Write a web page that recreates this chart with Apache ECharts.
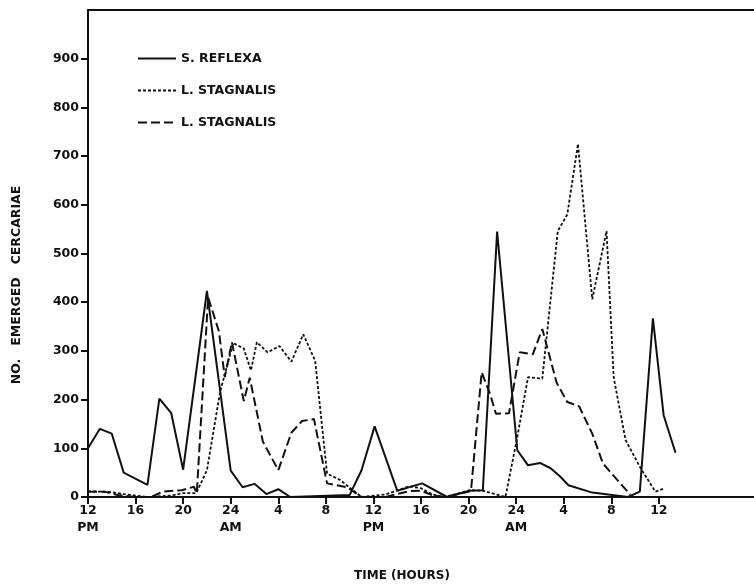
<!DOCTYPE html>
<html>
<head>
<meta charset="utf-8">
<script src="https://cdn.jsdelivr.net/npm/echarts@6/dist/echarts.min.js"></script>
<style>
    html, body { margin: 0; padding: 0; background: #fff; }
    #chart { width: 754px; height: 586px; }
</style>
</head>
<body>
<div id="chart"></div>
<script>
// hours counted from 12 PM of the first day
var reflexaHours = [0, 1, 2, 3, 5, 6, 7, 8, 10, 12, 13, 14, 15, 16, 17, 22, 23, 24.1, 26, 28.1, 30.2, 32.1, 33.2, 34.4, 36.1, 37, 38, 38.9, 39.7, 40.4, 42.4, 45.4, 46.4, 47.5, 48.4, 49.4];
var reflexaCounts = [100, 140, 130, 50, 25, 202, 172, 56, 423, 54, 20, 27, 6, 16, 0, 4, 55, 145, 13, 28, 0, 13, 14, 545, 96, 65, 70, 59, 42, 24, 9, 0, 11, 367, 168, 91];

var stagDotHours = [0, 2, 3, 5, 7, 8, 9.1, 10, 11.1, 12.2, 13.1, 13.7, 14.2, 15.1, 16.1, 17.1, 18.1, 19.1, 20.1, 21.2, 23, 25, 27, 28, 29, 30, 32.1, 33.2, 35.1, 36.05, 37, 38.2, 39.5, 40.3, 41.2, 42.4, 43.6, 44.2, 45.2, 46.4, 47.7, 48.5];
var stagDotCounts = [12, 10, 6, 0, 3, 8, 8, 55, 215, 316, 305, 260, 318, 297, 310, 278, 334, 280, 48, 35, 0, 5, 22, 18, 5, 0, 14, 13, 0, 117, 246, 243, 546, 580, 725, 406, 546, 246, 117, 62, 11, 18];

var stagDashHours = [0, 1.4, 2.5, 4, 5.3, 6.3, 7.9, 8.9, 9.15, 10.1, 11, 11.5, 12.1, 13.1, 13.6, 14.7, 16, 17.1, 18, 19, 20.1, 21.8, 23, 25, 27, 28, 29, 30, 32.2, 33.1, 33.8, 34.3, 35.4, 36.3, 37.4, 38.2, 39.4, 40.3, 41.3, 42.4, 43.3, 44.5, 45.6];
var stagDashCounts = [11, 11, 4, 0, 0, 11, 14, 21, 8, 410, 341, 246, 318, 197, 245, 114, 55, 132, 156, 160, 28, 20, 0, 0, 12, 13, 3, 0, 12, 256, 212, 171, 172, 297, 293, 345, 235, 195, 186, 130, 69, 35, 5];

var timeTicks = [0, 4, 8, 12, 16, 20, 24, 28, 32, 36, 40, 44, 48];
var timeLabels = ['12\nPM', '16', '20', '24\nAM', '4', '8', '12\nPM', '16', '20', '24\nAM', '4', '8', '12'];
var countTicks = [0, 100, 200, 300, 400, 500, 600, 700, 800, 900];

function pairs(xs, ys) {
    var out = [];
    for (var i = 0; i < xs.length; i++) {
        out.push([xs[i], ys[i]]);
    }
    return out;
}

var ink = '#111';
var font = 'DejaVu Sans';

var chart = echarts.init(document.getElementById('chart'), null, { renderer: 'canvas' });

var option = {
    animation: false,
    backgroundColor: '#fff',
    grid: { left: 88, right: 0, top: 10, bottom: 89 },
    legend: {
        orient: 'vertical',
        left: 132,
        top: 47,
        itemWidth: 38,
        itemHeight: 14,
        itemGap: 19,
        // hide the marker dot, keep only the line sample
        itemStyle: { color: 'transparent', borderWidth: 0, opacity: 0 },
        textStyle: { color: ink, fontFamily: font, fontWeight: 'bold', fontSize: 12.5 },
        formatter: function(name) {
            return name.replace(/ #\d$/, '');
        },
        data: ['S. REFLEXA', 'L. STAGNALIS #1', 'L. STAGNALIS #2']
    },
    xAxis: [
        {
            type: 'value',
            min: 0,
            max: 56,
            interval: 4,
            splitLine: { show: false },
            axisLine: { lineStyle: { color: ink, width: 2 } },
            axisTick: {
                length: 7,
                customValues: timeTicks,
                lineStyle: { color: ink, width: 2 }
            },
            axisLabel: {
                customValues: timeTicks,
                margin: 5,
                color: ink,
                fontFamily: font,
                fontWeight: 'bold',
                fontSize: 12.5,
                lineHeight: 17,
                formatter: function(v) {
                    var i = timeTicks.indexOf(v);
                    return i < 0 ? '' : timeLabels[i];
                }
            }
        },
        {
            type: 'value',
            position: 'top',
            min: 0,
            max: 56,
            splitLine: { show: false },
            axisLine: { lineStyle: { color: ink, width: 2 } },
            axisTick: { show: false },
            axisLabel: { show: false }
        }
    ],
    yAxis: {
        type: 'value',
        min: 0,
        max: 1000,
        interval: 100,
        splitLine: { show: false },
        axisLine: { show: true, lineStyle: { color: ink, width: 2 } },
        axisTick: {
            length: 7,
            customValues: countTicks,
            lineStyle: { color: ink, width: 2 }
        },
        axisLabel: {
            customValues: countTicks,
            margin: 9,
            color: ink,
            fontFamily: font,
            fontWeight: 'bold',
            fontSize: 12.5
        }
    },
    graphic: [
        {
            type: 'text',
            x: 17,
            y: 285,
            rotation: Math.PI / 2,
            style: {
                text: 'NO.   EMERGED   CERCARIAE',
                fill: ink,
                font: 'bold 12.5px "DejaVu Sans"',
                textAlign: 'center',
                textVerticalAlign: 'middle'
            }
        },
        {
            type: 'text',
            x: 402,
            y: 576,
            style: {
                text: 'TIME (HOURS)',
                fill: ink,
                font: 'bold 12px "DejaVu Sans"',
                textAlign: 'center',
                textVerticalAlign: 'middle'
            }
        }
    ],
    series: [
        {
            name: 'S. REFLEXA',
            type: 'line',
            symbol: 'none',
            lineStyle: { color: ink, width: 2, type: 'solid' },
            itemStyle: { color: ink },
            data: pairs(reflexaHours, reflexaCounts)
        },
        {
            name: 'L. STAGNALIS #1',
            type: 'line',
            symbol: 'none',
            lineStyle: { color: ink, width: 1.8, type: [3, 2] },
            itemStyle: { color: ink },
            data: pairs(stagDotHours, stagDotCounts)
        },
        {
            name: 'L. STAGNALIS #2',
            type: 'line',
            symbol: 'none',
            lineStyle: { color: ink, width: 2, type: [9, 4] },
            itemStyle: { color: ink },
            data: pairs(stagDashHours, stagDashCounts)
        }
    ]
};

chart.setOption(option);
</script>
</body>
</html>
